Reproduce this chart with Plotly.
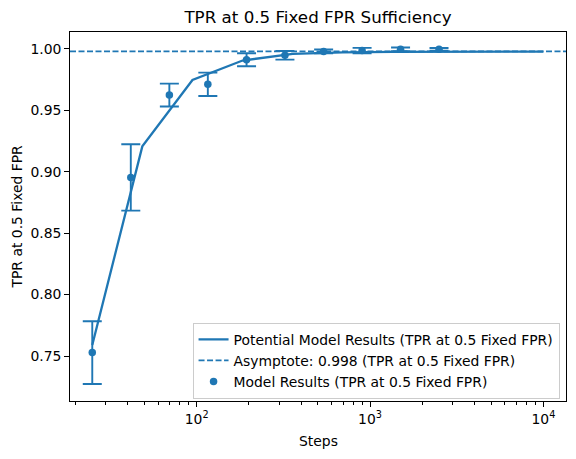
import math
import plotly.graph_objects as go

# ---- data ----
steps = [25, 41.7, 69.6, 116, 194, 323, 540, 900, 1500, 2500]
tpr = [0.7528, 0.8954, 0.9625, 0.9712, 0.9912, 0.9948, 0.9980, 0.9987, 0.9997, 0.9997]
tpr_err = [0.0255, 0.0270, 0.0093, 0.0095, 0.0053, 0.0035, 0.0015, 0.0022, 0.0015, 0.0011]

fit_steps = [25, 48.6, 94.6, 184, 358, 697, 1357, 2641, 5140, 10000]
fit_tpr = [0.7590, 0.9207, 0.9747, 0.9906, 0.9960, 0.9972, 0.9976, 0.9977, 0.9978, 0.9978]

asymptote = 0.998

x_range = [18.6, 13500]
x_tickvals = [100, 1000, 10000]
x_ticktext = ["10<sup>2</sup>", "10<sup>3</sup>", "10<sup>4</sup>"]
x_minor = [20, 30, 40, 50, 60, 70, 80, 90,
           200, 300, 400, 500, 600, 700, 800, 900,
           2000, 3000, 4000, 5000, 6000, 7000, 8000, 9000]
y_tickvals = [0.75, 0.80, 0.85, 0.90, 0.95, 1.00]
y_range = [0.7134, 1.0138]

color = "#1f77b4"
font = "DejaVu Sans"
fs = 13.9

W, H = 576, 459
ML, MR, MT, MB = 70, 10, 32, 58

fig = go.Figure()

fig.add_trace(go.Scatter(
    x=fit_steps, y=fit_tpr, mode="lines",
    line=dict(color=color, width=2.3),
    name="Potential Model Results (TPR at 0.5 Fixed FPR)",
))
fig.add_trace(go.Scatter(
    x=x_range, y=[asymptote, asymptote], mode="lines",
    line=dict(color=color, width=1.9, dash="6px,2.5px"),
    name="Asymptote: 0.998 (TPR at 0.5 Fixed FPR)",
))
fig.add_trace(go.Scatter(
    x=steps, y=tpr, mode="markers",
    marker=dict(color=color, size=7.5),
    error_y=dict(type="data", array=tpr_err, visible=True,
                 color=color, thickness=1.9, width=9.5),
    name="Model Results (TPR at 0.5 Fixed FPR)",
))

fig.update_layout(
    width=W, height=H,
    margin=dict(l=ML, r=MR, t=MT, b=MB, autoexpand=False),
    paper_bgcolor="white", plot_bgcolor="white",
    font=dict(family=font, size=fs, color="black"),
    title=dict(text="TPR at 0.5 Fixed FPR Sufficiency", x=0.5, xref="paper",
               xanchor="center", y=1 - 17 / H, yanchor="middle",
               font=dict(size=16.7, family=font, color="black")),
    showlegend=True,
    legend=dict(x=0.987, xanchor="right", y=0.006, yanchor="bottom",
                bgcolor="rgba(255,255,255,0.8)", bordercolor="#cccccc",
                borderwidth=1, font=dict(size=fs, family=font),
                tracegroupgap=0, itemwidth=30),
    annotations=[
        dict(text="Steps", xref="paper", yref="paper", x=0.5,
             y=-(441 - (H - MB)) / (H - MT - MB), xanchor="center", yanchor="middle",
             showarrow=False, font=dict(size=fs, family=font)),
        dict(text="TPR at 0.5 Fixed FPR", xref="paper", yref="paper",
             x=-(ML - 16) / (W - ML - MR), y=0.5, xanchor="center", yanchor="middle",
             textangle=-90, showarrow=False, font=dict(size=fs, family=font)),
    ],
)

fig.update_xaxes(
    type="log", range=[math.log10(v) for v in x_range], automargin=False,
    tickvals=x_tickvals, ticktext=x_ticktext,
    ticks="outside", ticklen=4.9, tickwidth=1, tickcolor="black",
    minor=dict(tickvals=x_minor, ticks="outside", ticklen=2.8, tickwidth=0.8, tickcolor="black"),
    showline=True, linecolor="black", linewidth=1, mirror=True,
    showgrid=False, zeroline=False,
)
fig.update_yaxes(
    range=y_range, tickvals=y_tickvals, tickformat=".2f", automargin=False,
    ticks="outside", ticklen=4.9, tickwidth=1, tickcolor="black",
    showline=True, linecolor="black", linewidth=1, mirror=True,
    showgrid=False, zeroline=False,
)

fig.write_html(
    "out.html",
    config={"responsive": False, "displayModeBar": False},
    post_script="document.body.style.margin='0';document.body.style.padding='0';"
                "document.body.style.overflow='hidden';",
)
